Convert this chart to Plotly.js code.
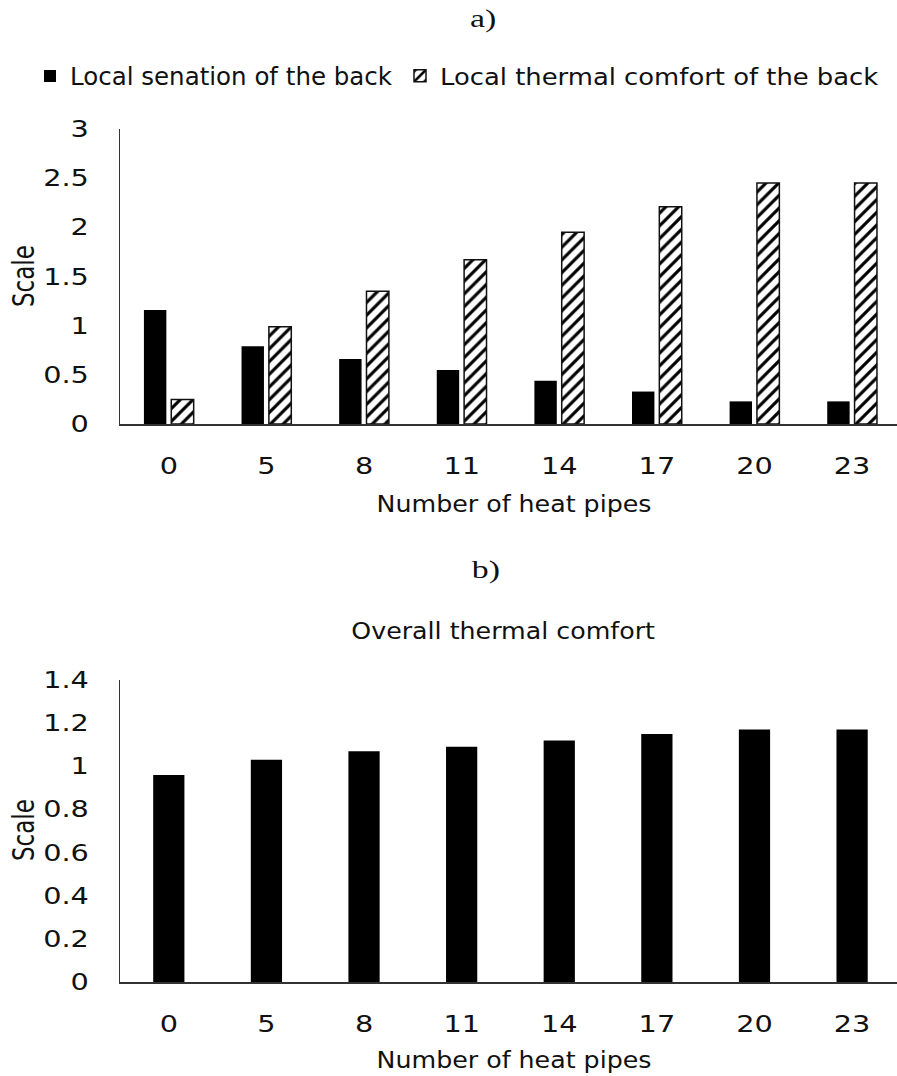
<!DOCTYPE html>
<html>
<head>
<meta charset="utf-8">
<script src="https://cdn.plot.ly/plotly-3.0.1.min.js"></script>
<style>html,body{margin:0;padding:0;background:#fff;}#chart{width:897px;height:1076px;}</style>
</head>
<body>
<div id="chart"></div>
<script>
var categories = ['0', '5', '8', '11', '14', '17', '20', '23'];
var localSensationBack = [1.16, 0.79, 0.66, 0.55, 0.44, 0.33, 0.23, 0.23];
var localComfortBack = [0.25, 0.99, 1.35, 1.67, 1.95, 2.21, 2.45, 2.45];
var overallComfort = [0.96, 1.03, 1.07, 1.09, 1.12, 1.15, 1.17, 1.17];
var yTicksTop = [0, 0.5, 1, 1.5, 2, 2.5, 3];
var yTickTextTop = ['0', '0.5', '1', '1.5', '2', '2.5', '3'];
var yTicksBottom = [0, 0.2, 0.4, 0.6, 0.8, 1, 1.2, 1.4];
var yTickTextBottom = ['0', '0.2', '0.4', '0.6', '0.8', '1', '1.2', '1.4'];

var tickFont = {family: 'DejaVu Sans', size: 23, color: '#111'};
var titleFont = {family: 'DejaVu Sans', size: 23, color: '#111'};
var legendFont1 = {family: 'DejaVu Sans', size: 24.5, color: '#111'};
var legendFont2 = {family: 'DejaVu Sans', size: 23.5, color: '#111'};
var serifFont = {family: 'Liberation Serif', size: 26, color: '#111'};

var traces = [
  {type: 'bar', name: 'Local senation of the back', x: categories, y: localSensationBack,
   xaxis: 'x', yaxis: 'y', legend: 'legend', marker: {color: '#000', line: {width: 0}}},
  {type: 'bar', name: 'Local thermal comfort of the back', x: categories, y: localComfortBack,
   xaxis: 'x', yaxis: 'y', legend: 'legend2',
   marker: {color: '#fff', line: {color: '#111', width: 1.5},
            pattern: {shape: '/', fgcolor: '#000', bgcolor: '#fff', size: 9, solidity: 0.35}}},
  {type: 'bar', name: 'Overall thermal comfort', x: categories, y: overallComfort,
   xaxis: 'x2', yaxis: 'y2', showlegend: false, width: 0.32,
   marker: {color: '#000', line: {width: 0}}}
];

function xAxis(anchor) {
  return {type: 'category', anchor: anchor, domain: [0, 1], range: [-0.5, 7.46],
    showline: true, linecolor: '#333', linewidth: 1.5, ticks: '', showgrid: false,
    tickfont: tickFont, ticklabelstandoff: 21, zeroline: false, fixedrange: true, automargin: false};
}
function yAxis(anchor, domain, range, tv, tt) {
  return {anchor: anchor, domain: domain, range: range, tickvals: tv, ticktext: tt,
    showline: true, linecolor: '#333', linewidth: 1.5, ticks: '', showgrid: false,
    zeroline: false, tickfont: tickFont, ticklabelstandoff: 25, fixedrange: true, automargin: false};
}

var H = 1076, PW = 777, L = 120;
function px(x) { return (x - L) / PW; }
function py(y) { return 1 - y / H; }
var layout = {
  width: 897, height: H,
  margin: {l: L, r: 0, t: 0, b: 0, autoexpand: false},
  paper_bgcolor: '#fff', plot_bgcolor: '#fff',
  barmode: 'group', bargap: 0.44, bargroupgap: 0.18,
  showlegend: true,
  legend: {orientation: 'h', x: px(30), xanchor: 'left', y: py(76), yanchor: 'middle',
    font: legendFont1, bgcolor: 'rgba(0,0,0,0)'},
  legend2: {orientation: 'h', x: px(400), xanchor: 'left', y: py(76), yanchor: 'middle',
    font: legendFont2, bgcolor: 'rgba(0,0,0,0)', entrywidth: 445, entrywidthmode: 'pixels'},
  xaxis: xAxis('y'),
  yaxis: yAxis('x', [py(424), py(129)], [0, 3], yTicksTop, yTickTextTop),
  xaxis2: xAxis('y2'),
  yaxis2: yAxis('x2', [py(982), py(680)], [0, 1.4], yTicksBottom, yTickTextBottom),
  annotations: [
    {text: 'a)', xref: 'paper', yref: 'paper', x: px(483), y: py(18), showarrow: false,
     font: serifFont, yanchor: 'middle'},
    {text: 'b)', xref: 'paper', yref: 'paper', x: px(486), y: py(569), showarrow: false,
     font: serifFont, yanchor: 'middle'},
    {text: 'Number of heat pipes', xref: 'paper', yref: 'paper', x: px(514), y: py(504),
     showarrow: false, font: titleFont, yanchor: 'middle'},
    {text: 'Number of heat pipes', xref: 'paper', yref: 'paper', x: px(514), y: py(1060),
     showarrow: false, font: titleFont, yanchor: 'middle'},
    {text: 'Overall thermal comfort', xref: 'paper', yref: 'paper', x: px(503), y: py(631),
     showarrow: false, font: titleFont, yanchor: 'middle'},
    {text: 'Scale', xref: 'paper', yref: 'paper', x: px(24), y: py(276), textangle: -90,
     showarrow: false, font: titleFont, xanchor: 'center', yanchor: 'middle'},
    {text: 'Scale', xref: 'paper', yref: 'paper', x: px(24), y: py(830), textangle: -90,
     showarrow: false, font: titleFont, xanchor: 'center', yanchor: 'middle'}
  ]
};

// horizontal stretch of the text, as in the (horizontally stretched) reference picture
function stretchText(gd) {
  var texts = gd.querySelectorAll('text');
  texts.forEach(function (t) {
    if (t.classList.contains('legendtext')) return;
    var content = t.textContent;
    var sx = 1.1, sy = 1;
    if (t.closest('.xtick') || t.closest('.ytick') || t.closest('.x2tick') || t.closest('.y2tick')) sx = 1.25;
    if (content === 'a)' || content === 'b)') sx = 1.3;
    if (content === 'Scale') { sx = 1; sy = 1.3; }
    var bb = t.getBBox();
    if (!bb.width) return;
    var anchor = t.getAttribute('text-anchor') || 'start';
    var cx = anchor === 'middle' ? bb.x + bb.width / 2 : (anchor === 'end' ? bb.x + bb.width : bb.x);
    var cy = bb.y + bb.height / 2;
    var prev = t.getAttribute('transform') || '';
    t.setAttribute('transform', prev + ' translate(' + cx + ',' + cy + ') scale(' + sx + ',' + sy + ') translate(' + (-cx) + ',' + (-cy) + ')');
  });
}

Plotly.newPlot('chart', traces, layout, {displayModeBar: false, staticPlot: true}).then(stretchText);
</script>
</body>
</html>
